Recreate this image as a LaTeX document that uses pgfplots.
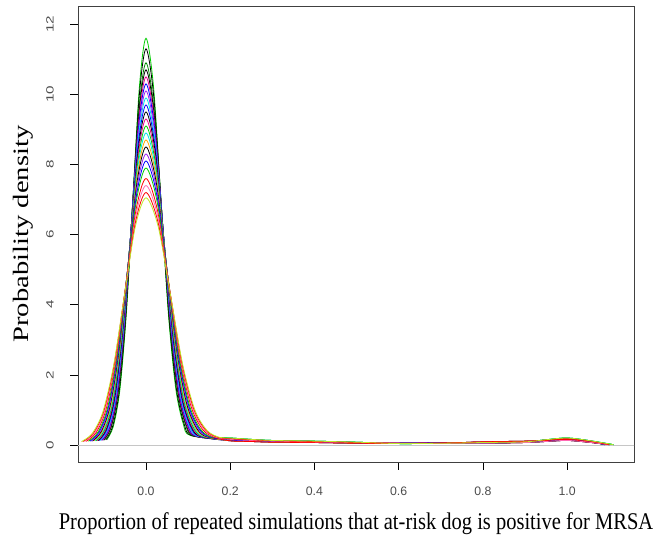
\documentclass[border=0pt]{standalone}
\usepackage{fontspec}
\setmainfont{Liberation Serif}
\newfontfamily\tickfont{Liberation Sans}
\usepackage{graphicx}
\usepackage{pgfplots}
\pgfplotsset{compat=1.18}

\definecolor{rgreen}{RGB}{0,205,0}
\definecolor{dgreen}{RGB}{0,140,0}
\definecolor{rpurple}{RGB}{160,32,240}
\definecolor{rorange}{RGB}{255,165,0}
\definecolor{rpink}{RGB}{255,105,180}
\definecolor{ryg}{RGB}{190,230,40}
\definecolor{rcyan}{RGB}{0,230,230}

\begin{document}
\begin{tikzpicture}
\begin{axis}[
    name=ax, at={(0,0)}, anchor=south west,
    scale only axis, width=556pt, height=456pt,
    xmin=-0.1615, xmax=1.159, ymin=-0.485, ymax=12.52,
    axis line style={black!75, line width=0.9pt},
    xtick={0,0.2,0.4,0.6,0.8,1.0},
    xticklabels={0.0,0.2,0.4,0.6,0.8,1.0},
    ytick={0,2,4,6,8,10,12},
    yticklabels={\scalebox{1.45}[1]{0},\scalebox{1.45}[1]{2},\scalebox{1.45}[1]{4},\scalebox{1.45}[1]{6},\scalebox{1.45}[1]{8},\scalebox{1.45}[1]{10},\scalebox{1.45}[1]{12}},
    tick align=outside, major tick length=8pt,
    xtick pos=bottom, ytick pos=left,
    tick style={black, line width=0.6pt},
    xticklabel style={font=\fontsize{12.3}{14}\selectfont\tickfont, text=black!70, anchor=center},
    yticklabel style={font=\fontsize{10.5}{12}\selectfont\tickfont, text=black!70, anchor=center, rotate=90},
    xticklabel shift=21pt,
    yticklabel shift=20pt,
    xlabel={\scalebox{1}[1.17]{Proportion of repeated simulations that at-risk dog is positive for MRSA}},
    xlabel style={at={(axis description cs:0.5,-0.1476)}, anchor=base, font=\fontsize{20.5}{24}\selectfont, inner sep=0pt},
    ylabel={\scalebox{1.3}[1]{Probability density}},
    ylabel style={at={(axis description cs:-0.0989,0.5)}, anchor=center, font=\fontsize{22}{26}\selectfont, inner sep=0pt},
    every axis plot/.append style={line width=0.8pt, smooth, no markers},
]
% reference line at zero
\addplot[gray!45, sharp plot] coordinates {(-0.3,0) (1.3,0)};

\addplot[rgreen] coordinates {(-0.0931,0.149) (-0.0776,0.529) (-0.0621,1.569) (-0.0466,3.767) (-0.0310,7.035) (-0.0155,10.237) (0,11.6) (0.0177,10.237) (0.0353,7.035) (0.0530,3.767) (0.0707,1.609) (0.0884,0.609) (0.1060,0.269)
 (0.2,0.18) (0.25,0.15) (0.3,0.12) (0.4,0.10) (0.5,0.07) (0.6,0.05) (0.7,0.06) (0.8,0.08) (0.9,0.10) (0.95,0.14) (1.0,0.18) (1.05,0.12) (1.1,0.01)};
\addplot[black] coordinates {(-0.0956,0.145) (-0.0796,0.516) (-0.0637,1.529) (-0.0478,3.669) (-0.0319,6.853) (-0.0159,9.972) (0,11.3) (0.0181,9.972) (0.0363,6.853) (0.0544,3.669) (0.0726,1.569) (0.0907,0.596) (0.1088,0.265)
 (0.2,0.14) (0.25,0.12) (0.3,0.10) (0.4,0.08) (0.5,0.06) (0.6,0.06) (0.7,0.07) (0.8,0.06) (0.9,0.08) (0.95,0.12) (1.0,0.15) (1.05,0.10) (1.09,0.01)};
\addplot[dgreen] coordinates {(-0.0991,0.141) (-0.0826,0.499) (-0.0661,1.475) (-0.0495,3.539) (-0.0330,6.611) (-0.0165,9.619) (0,10.9) (0.0188,9.619) (0.0376,6.611) (0.0564,3.539) (0.0752,1.515) (0.0940,0.579) (0.1128,0.261)
 (0.2,0.20) (0.25,0.16) (0.3,0.13) (0.4,0.11) (0.5,0.08) (0.6,0.04) (0.7,0.05) (0.8,0.07) (0.9,0.09) (0.95,0.15) (1.0,0.20) (1.05,0.13) (1.11,0.01)};
\addplot[black] coordinates {(-0.1009,0.139) (-0.0841,0.490) (-0.0673,1.448) (-0.0505,3.474) (-0.0336,6.490) (-0.0168,9.443) (0,10.7) (0.0192,9.443) (0.0383,6.490) (0.0575,3.474) (0.0766,1.488) (0.0958,0.570) (0.1150,0.259)
 (0.2,0.12) (0.25,0.10) (0.3,0.08) (0.4,0.07) (0.5,0.05) (0.6,0.04) (0.7,0.05) (0.8,0.09) (0.9,0.11) (0.95,0.13) (1.0,0.16) (1.05,0.09) (1.1,0.01)};
\addplot[magenta] coordinates {(-0.1029,0.137) (-0.0857,0.481) (-0.0686,1.421) (-0.0514,3.409) (-0.0343,6.368) (-0.0171,9.266) (0,10.5) (0.0195,9.266) (0.0390,6.368) (0.0586,3.409) (0.0781,1.461) (0.0976,0.561) (0.1171,0.257)
 (0.2,0.16) (0.25,0.13) (0.3,0.11) (0.4,0.09) (0.5,0.07) (0.6,0.06) (0.7,0.05) (0.8,0.05) (0.9,0.07) (0.95,0.10) (1.0,0.13) (1.05,0.08) (1.1,0.01)};
\addplot[blue] coordinates {(-0.1049,0.134) (-0.0874,0.472) (-0.0699,1.394) (-0.0524,3.344) (-0.0350,6.247) (-0.0175,9.090) (0,10.3) (0.0199,9.090) (0.0398,6.247) (0.0597,3.344) (0.0796,1.434) (0.0995,0.552) (0.1194,0.254)
 (0.2,0.18) (0.25,0.15) (0.3,0.12) (0.4,0.10) (0.5,0.07) (0.6,0.05) (0.7,0.06) (0.8,0.08) (0.9,0.10) (0.95,0.14) (1.0,0.18) (1.05,0.12) (1.1,0.01)};
\addplot[rpurple] coordinates {(-0.1069,0.132) (-0.0891,0.463) (-0.0713,1.367) (-0.0535,3.279) (-0.0356,6.126) (-0.0178,8.913) (0,10.1) (0.0203,8.913) (0.0406,6.126) (0.0609,3.279) (0.0812,1.407) (0.1015,0.543) (0.1218,0.252)
 (0.2,0.14) (0.25,0.12) (0.3,0.10) (0.4,0.08) (0.5,0.06) (0.6,0.06) (0.7,0.07) (0.8,0.06) (0.9,0.08) (0.95,0.12) (1.0,0.15) (1.05,0.10) (1.09,0.01)};
\addplot[rcyan] coordinates {(-0.1091,0.130) (-0.0909,0.455) (-0.0727,1.339) (-0.0545,3.215) (-0.0364,6.004) (-0.0182,8.737) (0,9.9) (0.0207,8.737) (0.0414,6.004) (0.0621,3.215) (0.0828,1.379) (0.1035,0.535) (0.1242,0.250)
 (0.2,0.20) (0.25,0.16) (0.3,0.13) (0.4,0.11) (0.5,0.08) (0.6,0.04) (0.7,0.05) (0.8,0.07) (0.9,0.09) (0.95,0.15) (1.0,0.20) (1.05,0.13) (1.11,0.01)};
\addplot[blue] coordinates {(-0.1113,0.128) (-0.0928,0.446) (-0.0742,1.312) (-0.0557,3.150) (-0.0371,5.883) (-0.0186,8.560) (0,9.7) (0.0211,8.560) (0.0423,5.883) (0.0634,3.150) (0.0845,1.352) (0.1057,0.526) (0.1268,0.248)
 (0.2,0.12) (0.25,0.10) (0.3,0.08) (0.4,0.07) (0.5,0.05) (0.6,0.04) (0.7,0.05) (0.8,0.09) (0.9,0.11) (0.95,0.13) (1.0,0.16) (1.05,0.09) (1.1,0.01)};
\addplot[black] coordinates {(-0.1137,0.125) (-0.0947,0.437) (-0.0758,1.285) (-0.0568,3.085) (-0.0379,5.762) (-0.0189,8.384) (0,9.5) (0.0216,8.384) (0.0432,5.762) (0.0647,3.085) (0.0863,1.325) (0.1079,0.517) (0.1295,0.245)
 (0.2,0.16) (0.25,0.13) (0.3,0.11) (0.4,0.09) (0.5,0.07) (0.6,0.06) (0.7,0.05) (0.8,0.05) (0.9,0.07) (0.95,0.10) (1.0,0.13) (1.05,0.08) (1.1,0.01)};
\addplot[magenta] coordinates {(-0.1161,0.123) (-0.0968,0.428) (-0.0774,1.258) (-0.0581,3.020) (-0.0387,5.640) (-0.0194,8.207) (0,9.3) (0.0220,8.207) (0.0441,5.640) (0.0661,3.020) (0.0882,1.298) (0.1102,0.508) (0.1323,0.243)
 (0.2,0.18) (0.25,0.15) (0.3,0.12) (0.4,0.10) (0.5,0.07) (0.6,0.05) (0.7,0.06) (0.8,0.08) (0.9,0.10) (0.95,0.14) (1.0,0.18) (1.05,0.12) (1.1,0.01)};
\addplot[rgreen] coordinates {(-0.1187,0.121) (-0.0989,0.420) (-0.0791,1.231) (-0.0593,2.955) (-0.0396,5.519) (-0.0198,8.031) (0,9.1) (0.0225,8.031) (0.0451,5.519) (0.0676,2.955) (0.0901,1.271) (0.1126,0.500) (0.1352,0.241)
 (0.2,0.14) (0.25,0.12) (0.3,0.10) (0.4,0.08) (0.5,0.06) (0.6,0.06) (0.7,0.07) (0.8,0.06) (0.9,0.08) (0.95,0.12) (1.0,0.15) (1.05,0.10) (1.09,0.01)};
\addplot[rcyan] coordinates {(-0.1213,0.119) (-0.1011,0.411) (-0.0809,1.204) (-0.0607,2.890) (-0.0404,5.398) (-0.0202,7.854) (0,8.9) (0.0230,7.854) (0.0461,5.398) (0.0691,2.890) (0.0921,1.244) (0.1152,0.491) (0.1382,0.239)
 (0.2,0.20) (0.25,0.16) (0.3,0.13) (0.4,0.11) (0.5,0.08) (0.6,0.04) (0.7,0.05) (0.8,0.07) (0.9,0.09) (0.95,0.15) (1.0,0.20) (1.05,0.13) (1.11,0.01)};
\addplot[rorange] coordinates {(-0.1241,0.117) (-0.1034,0.402) (-0.0828,1.177) (-0.0621,2.825) (-0.0414,5.277) (-0.0207,7.678) (0,8.7) (0.0236,7.678) (0.0471,5.277) (0.0707,2.825) (0.0943,1.217) (0.1178,0.482) (0.1414,0.237)
 (0.2,0.12) (0.25,0.10) (0.3,0.08) (0.4,0.07) (0.5,0.05) (0.6,0.04) (0.7,0.05) (0.8,0.09) (0.9,0.11) (0.95,0.13) (1.0,0.16) (1.05,0.09) (1.1,0.01)};
\addplot[black] coordinates {(-0.1271,0.114) (-0.1059,0.393) (-0.0847,1.150) (-0.0635,2.760) (-0.0424,5.155) (-0.0212,7.501) (0,8.5) (0.0241,7.501) (0.0482,5.155) (0.0724,2.760) (0.0965,1.190) (0.1206,0.473) (0.1447,0.234)
 (0.2,0.16) (0.25,0.13) (0.3,0.11) (0.4,0.09) (0.5,0.07) (0.6,0.06) (0.7,0.05) (0.8,0.05) (0.9,0.07) (0.95,0.10) (1.0,0.13) (1.05,0.08) (1.1,0.01)};
\addplot[rpurple] coordinates {(-0.1301,0.112) (-0.1084,0.384) (-0.0867,1.123) (-0.0651,2.695) (-0.0434,5.034) (-0.0217,7.325) (0,8.3) (0.0247,7.325) (0.0494,5.034) (0.0741,2.695) (0.0988,1.163) (0.1235,0.464) (0.1482,0.232)
 (0.2,0.18) (0.25,0.15) (0.3,0.12) (0.4,0.10) (0.5,0.07) (0.6,0.05) (0.7,0.06) (0.8,0.08) (0.9,0.10) (0.95,0.14) (1.0,0.18) (1.05,0.12) (1.1,0.01)};
\addplot[blue] coordinates {(-0.1333,0.110) (-0.1111,0.376) (-0.0889,1.096) (-0.0667,2.630) (-0.0444,4.913) (-0.0222,7.148) (0,8.1) (0.0253,7.148) (0.0506,4.913) (0.0759,2.630) (0.1012,1.136) (0.1265,0.456) (0.1519,0.230)
 (0.2,0.14) (0.25,0.12) (0.3,0.10) (0.4,0.08) (0.5,0.06) (0.6,0.06) (0.7,0.07) (0.8,0.06) (0.9,0.08) (0.95,0.12) (1.0,0.15) (1.05,0.10) (1.09,0.01)};
\addplot[rgreen] coordinates {(-0.1367,0.108) (-0.1139,0.367) (-0.0911,1.069) (-0.0684,2.565) (-0.0456,4.791) (-0.0228,6.972) (0,7.9) (0.0259,6.972) (0.0519,4.791) (0.0778,2.565) (0.1038,1.109) (0.1297,0.447) (0.1557,0.228)
 (0.2,0.20) (0.25,0.16) (0.3,0.13) (0.4,0.11) (0.5,0.08) (0.6,0.04) (0.7,0.05) (0.8,0.07) (0.9,0.09) (0.95,0.15) (1.0,0.20) (1.05,0.13) (1.11,0.01)};
\addplot[red] coordinates {(-0.1421,0.104) (-0.1184,0.354) (-0.0947,1.028) (-0.0711,2.468) (-0.0474,4.609) (-0.0237,6.707) (0,7.6) (0.0270,6.707) (0.0539,4.609) (0.0809,2.468) (0.1079,1.068) (0.1349,0.434) (0.1618,0.224)
 (0.2,0.12) (0.25,0.10) (0.3,0.08) (0.4,0.07) (0.5,0.05) (0.6,0.04) (0.7,0.05) (0.8,0.09) (0.9,0.11) (0.95,0.13) (1.0,0.16) (1.05,0.09) (1.1,0.01)};
\addplot[rpink] coordinates {(-0.1459,0.102) (-0.1216,0.345) (-0.0973,1.001) (-0.0730,2.403) (-0.0486,4.488) (-0.0243,6.531) (0,7.4) (0.0277,6.531) (0.0554,4.488) (0.0831,2.403) (0.1108,1.041) (0.1385,0.425) (0.1662,0.222)
 (0.2,0.16) (0.25,0.13) (0.3,0.11) (0.4,0.09) (0.5,0.07) (0.6,0.06) (0.7,0.05) (0.8,0.05) (0.9,0.07) (0.95,0.10) (1.0,0.13) (1.05,0.08) (1.1,0.01)};
\addplot[red] coordinates {(-0.1500,0.100) (-0.1250,0.336) (-0.1000,0.974) (-0.0750,2.338) (-0.0500,4.367) (-0.0250,6.354) (0,7.2) (0.0285,6.354) (0.0569,4.367) (0.0854,2.338) (0.1139,1.014) (0.1424,0.416) (0.1708,0.220)
 (0.2,0.18) (0.25,0.15) (0.3,0.12) (0.4,0.10) (0.5,0.07) (0.6,0.05) (0.7,0.06) (0.8,0.08) (0.9,0.10) (0.95,0.14) (1.0,0.18) (1.05,0.12) (1.1,0.01)};
\addplot[ryg] coordinates {(-0.1532,0.098) (-0.1277,0.330) (-0.1021,0.954) (-0.0766,2.289) (-0.0511,4.276) (-0.0255,6.222) (0,7.05) (0.0291,6.222) (0.0582,4.276) (0.0872,2.289) (0.1163,0.994) (0.1454,0.410) (0.1745,0.218)
 (0.2,0.20) (0.25,0.16) (0.3,0.13) (0.4,0.11) (0.5,0.08) (0.6,0.04) (0.7,0.05) (0.8,0.07) (0.9,0.09) (0.95,0.15) (1.0,0.20) (1.05,0.13) (1.11,0.01)};
\end{axis}
\pgfresetboundingbox
\path (-78pt,-74pt) rectangle (576pt,462pt);
\end{tikzpicture}
\end{document}
